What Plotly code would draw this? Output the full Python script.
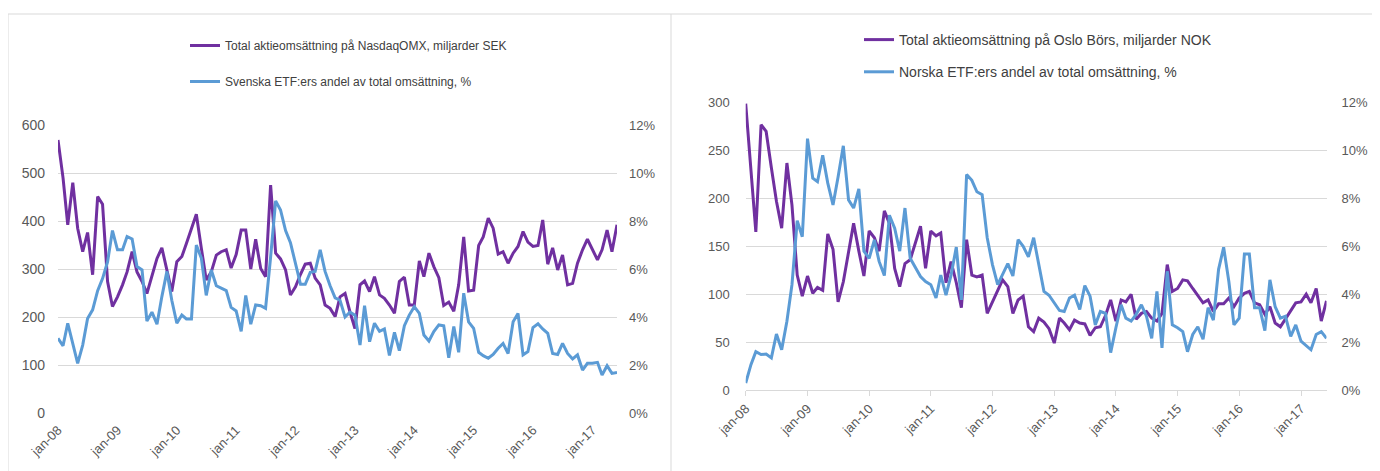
import pandas as pd
import plotly.graph_objects as go

# ---------------- data ----------------
months = pd.date_range("2008-01-01", periods=114, freq="MS")
tick_dates = pd.date_range("2008-01-01", periods=10, freq="12MS")
tick_labels = ["jan-08", "jan-09", "jan-10", "jan-11", "jan-12",
               "jan-13", "jan-14", "jan-15", "jan-16", "jan-17"]

se_name_turnover = "Total aktieomsättning på NasdaqOMX, miljarder SEK"
se_name_etf = "Svenska ETF:ers andel av total omsättning, %"
no_name_turnover = "Total aktieomsättning på Oslo Börs, miljarder NOK"
no_name_etf = "Norska ETF:ers andel av total omsättning, %"

se_turnover = [
    569, 490, 392, 480, 385, 336, 376, 288, 451, 435, 274, 222,
    242, 267, 294, 336, 294, 274, 249, 288, 322, 344, 298, 253,
    315, 326, 353, 385, 414, 343, 277, 294, 329, 336, 340, 302,
    330, 381, 381, 300, 362, 301, 284, 475, 333, 321, 298, 246,
    263, 289, 310, 312, 281, 267, 225, 218, 201, 242, 249, 211,
    176, 267, 275, 253, 284, 246, 239, 225, 208, 274, 283, 225,
    225, 317, 284, 333, 305, 282, 224, 231, 212, 267, 367, 254,
    256, 349, 367, 406, 385, 331, 336, 312, 333, 347, 378, 356,
    347, 349, 402, 310, 344, 298, 329, 267, 270, 312, 340, 362,
    340, 319, 340, 381, 336, 392,
]
se_etf_share = [
    3.11, 2.80, 3.74, 2.83, 2.07, 2.83, 3.94, 4.30, 5.10, 5.60, 6.30, 7.60,
    6.80, 6.80, 7.35, 7.25, 6.10, 5.96, 3.83, 4.20, 3.70, 4.85, 5.90, 4.70,
    3.74, 4.08, 3.92, 3.92, 7.00, 6.45, 4.90, 5.96, 5.30, 5.20, 5.10, 4.40,
    4.25, 3.40, 4.90, 3.70, 4.50, 4.47, 4.36, 6.50, 8.84, 8.46, 7.60, 7.10,
    6.20, 5.36, 5.36, 5.86, 5.90, 6.80, 5.90, 5.30, 4.80, 4.70, 4.00, 4.20,
    4.08, 2.83, 4.47, 2.97, 3.74, 3.40, 3.50, 2.40, 3.36, 2.60, 3.64, 4.08,
    4.43, 4.15, 3.25, 3.00, 3.39, 3.67, 3.63, 2.30, 3.60, 2.53, 4.99, 3.80,
    3.53, 2.53, 2.39, 2.28, 2.44, 2.70, 2.90, 2.48, 3.80, 4.15, 2.42, 2.56,
    3.56, 3.72, 3.50, 3.32, 2.48, 2.44, 2.90, 2.48, 2.25, 2.42, 1.79, 2.07,
    2.07, 2.11, 1.58, 1.97, 1.65, 1.69,
]
no_turnover = [
    299, 232, 165, 277, 270, 232, 197, 169, 237, 193, 120, 98,
    119, 101, 107, 104, 163, 147, 92, 113, 145, 174, 145, 119,
    166, 159, 145, 187, 174, 127, 108, 132, 136, 152, 171, 127,
    166, 161, 164, 112, 134, 112, 86, 157, 120, 118, 120, 80,
    92, 103, 115, 108, 80, 94, 98, 66, 61, 75, 71, 64,
    49, 75, 70, 63, 73, 70, 69, 57, 65, 66, 78, 94,
    72, 94, 92, 100, 74, 80, 82, 75, 72, 80, 131, 103,
    106, 115, 114, 106, 98, 91, 94, 82, 90, 90, 96, 87,
    96, 101, 103, 91, 89, 79, 87, 70, 66, 74, 82, 91,
    92, 100, 91, 106, 72, 93,
]
no_etf_share = [
    0.29, 1.06, 1.60, 1.48, 1.50, 1.34, 2.34, 1.68, 2.87, 4.40, 7.07, 6.40,
    10.50, 8.85, 8.70, 9.80, 8.64, 7.73, 8.90, 10.20, 7.94, 7.60, 8.40, 5.80,
    5.50, 6.27, 5.37, 4.78, 7.30, 6.76, 5.80, 7.60, 5.50, 5.10, 4.74, 4.53,
    4.40, 3.84, 4.80, 3.96, 4.80, 5.97, 3.76, 9.00, 8.76, 8.28, 8.16, 6.36,
    5.24, 4.40, 4.80, 5.28, 4.76, 6.28, 6.00, 5.56, 6.36, 5.28, 4.12, 3.96,
    3.64, 3.32, 3.28, 3.84, 3.96, 3.36, 4.36, 3.92, 2.72, 3.28, 3.20, 1.56,
    2.60, 3.56, 3.00, 2.88, 3.16, 3.56, 3.08, 2.16, 4.12, 1.76, 4.96, 2.72,
    2.60, 2.44, 1.60, 2.32, 2.64, 2.12, 3.44, 2.92, 5.04, 5.96, 4.52, 2.72,
    3.00, 5.68, 5.68, 3.44, 3.44, 2.48, 4.60, 3.48, 3.00, 3.08, 2.24, 2.72,
    2.04, 1.84, 1.68, 2.32, 2.44, 2.16,
]

# ---------------- styling ----------------
OFF = 8  # page body margin
W, H = 1380 - OFF, 471 - OFF
PURPLE = "#7030a0"
BLUE = "#5b9bd5"
GRID = "#d9d9d9"
TXT = "#595959"
FONT = "Liberation Sans, Arial, sans-serif"


def fx(px):
    """page pixel x -> paper fraction"""
    return (px - OFF) / W


def fy(py):
    """page pixel y -> paper fraction"""
    return 1 - (py - OFF) / H


fig = go.Figure()
fig.add_trace(go.Scatter(x=months, y=se_turnover, name=se_name_turnover, mode="lines",
                         line=dict(color=PURPLE, width=3), xaxis="x", yaxis="y",
                         legend="legend", legendgroup="a"))
fig.add_trace(go.Scatter(x=months, y=se_etf_share, name=se_name_etf, mode="lines",
                         line=dict(color=BLUE, width=3), xaxis="x", yaxis="y2",
                         legend="legend", legendgroup="b"))
fig.add_trace(go.Scatter(x=months, y=no_turnover, name=no_name_turnover, mode="lines",
                         line=dict(color=PURPLE, width=3), xaxis="x2", yaxis="y3",
                         legend="legend2", legendgroup="c"))
fig.add_trace(go.Scatter(x=months, y=no_etf_share, name=no_name_etf, mode="lines",
                         line=dict(color=BLUE, width=3), xaxis="x2", yaxis="y4",
                         legend="legend2", legendgroup="d"))

tickfont = dict(family=FONT, size=13, color=TXT)
xrange = [months[0], months[-1]]

fig.update_layout(
    width=W, height=H,
    margin=dict(l=0, r=0, t=0, b=0),
    paper_bgcolor="white", plot_bgcolor="white",
    font=dict(family=FONT, color=TXT),
    xaxis=dict(domain=[fx(58), fx(617)], anchor="y", range=xrange,
               tickmode="array", tickvals=tick_dates, ticktext=tick_labels,
               tickangle=-45, showgrid=False, zeroline=False, showline=False,
               ticks="", tickfont=tickfont, automargin=False, ticklabelstandoff=6),
    yaxis=dict(domain=[fy(413), fy(125)], anchor="x", range=[0, 600], dtick=100,
               showgrid=True, gridcolor=GRID, gridwidth=1, zeroline=False,
               ticks="", tickfont=dict(family=FONT, size=14, color=TXT),
               automargin=False, ticklabelstandoff=12),
    yaxis2=dict(overlaying="y", side="right", anchor="x", range=[0, 12], dtick=2,
                ticksuffix="%", showgrid=False, zeroline=False, ticks="",
                tickfont=tickfont, automargin=False, ticklabelstandoff=11),
    xaxis2=dict(domain=[fx(745.7), fx(1326.5)], anchor="y3", range=xrange,
                tickmode="array", tickvals=tick_dates, ticktext=tick_labels,
                tickangle=-45, showgrid=False, zeroline=False, showline=True,
                linecolor=GRID, linewidth=1, ticks="outside", ticklen=5,
                tickcolor=GRID, tickfont=tickfont, automargin=False),
    yaxis3=dict(domain=[fy(390), fy(102.7)], anchor="x2", range=[0, 300], dtick=50,
                showgrid=True, gridcolor=GRID, gridwidth=1, zeroline=False,
                ticks="", tickfont=tickfont, automargin=False, ticklabelstandoff=15),
    yaxis4=dict(overlaying="y3", side="right", anchor="x2", range=[0, 12], dtick=2,
                ticksuffix="%", showgrid=False, zeroline=False, ticks="",
                tickfont=tickfont, automargin=False, ticklabelstandoff=14),
    legend=dict(x=fx(185), y=fy(31), xanchor="left", yanchor="top",
                orientation="v", tracegroupgap=17, bgcolor="rgba(0,0,0,0)",
                font=dict(family=FONT, size=12, color="#404040"), traceorder="grouped"),
    legend2=dict(x=fx(859), y=fy(24), xanchor="left", yanchor="top",
                 orientation="v", tracegroupgap=11, bgcolor="rgba(0,0,0,0)",
                 font=dict(family=FONT, size=14, color="#404040"), traceorder="grouped"),
    showlegend=True,
    shapes=[
        dict(type="line", xref="paper", yref="paper", x0=fx(8), x1=fx(8),
             y0=fy(14), y1=0, line=dict(color=GRID, width=1)),
        dict(type="line", xref="paper", yref="paper", x0=fx(8), x1=1,
             y0=fy(14), y1=fy(14), line=dict(color=GRID, width=1)),
        dict(type="line", xref="paper", yref="paper", x0=fx(671), x1=fx(671),
             y0=fy(14), y1=0, line=dict(color=GRID, width=1)),
    ],
)

fig.write_html("out.html")
